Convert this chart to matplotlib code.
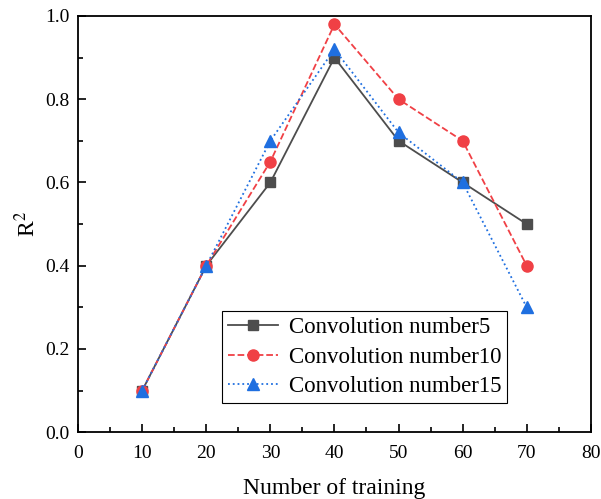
import numpy as np
import matplotlib.pyplot as plt
from matplotlib.ticker import MultipleLocator

plt.rcParams['font.family'] = ['Liberation Serif', 'DejaVu Serif']
plt.rcParams['mathtext.fontset'] = 'stix'

x = [10, 20, 30, 40, 50, 60, 70]
conv5 = [0.1, 0.4, 0.6, 0.9, 0.7, 0.6, 0.5]
conv10 = [0.1, 0.4, 0.65, 0.98, 0.8, 0.7, 0.4]
conv15 = [0.1, 0.4, 0.7, 0.92, 0.72, 0.6, 0.3]
labels = ['Convolution number5', 'Convolution number10', 'Convolution number15']

fig = plt.figure(figsize=(6.01, 4.99), dpi=100)
ax = fig.add_axes([0.13, 0.134, 0.853, 0.834])

ax.plot(x, conv5, '-', color='#4d4d4d', marker='s', markersize=7, lw=1.3, label=labels[0])
ax.plot(x, conv10, '--', color='#f04045', marker='o', markersize=8, lw=1.3, label=labels[1])
ax.plot(x, conv15, ':', color='#1f6fe0', marker='^', markersize=8, lw=1.3, label=labels[2])

ax.set_xlim(0, 80)
ax.set_ylim(0, 1.0)
ax.xaxis.set_major_locator(MultipleLocator(10))
ax.xaxis.set_minor_locator(MultipleLocator(5))
ax.yaxis.set_major_locator(MultipleLocator(0.2))
ax.yaxis.set_minor_locator(MultipleLocator(0.1))
ax.tick_params(which='both', direction='in', labelsize=14, width=1.2)
ax.tick_params(which='major', length=6)
ax.tick_params(which='minor', length=3.5)
ax.tick_params(axis='x', pad=9)
ax.tick_params(axis='y', pad=6)
for s in ax.spines.values():
    s.set_linewidth(1.3)

ax.set_xlabel('Number of training', fontsize=17, labelpad=12)
ax.set_ylabel('R$^2$', fontsize=17, labelpad=4)

leg = ax.legend(loc='lower left', bbox_to_anchor=(0.281, 0.07), fontsize=16.5,
                fancybox=False, edgecolor='black', framealpha=1,
                handlelength=2.2, borderpad=0.25, labelspacing=0.38, handletextpad=0.45,
                borderaxespad=0)
leg.get_frame().set_linewidth(0.8)

fig.savefig('out.png', dpi=100)
